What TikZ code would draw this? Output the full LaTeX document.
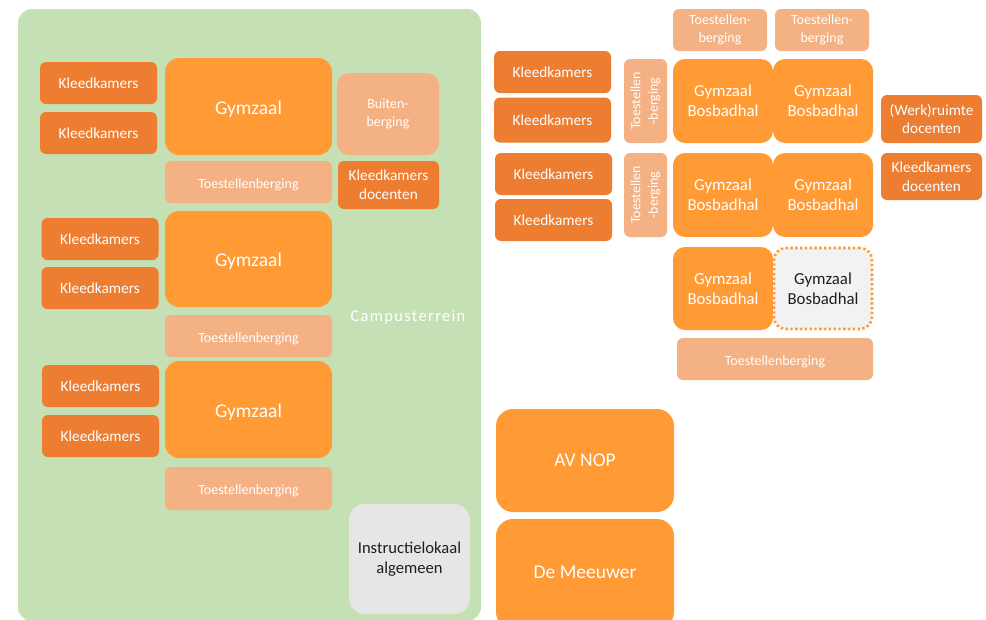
\documentclass[tikz,border=0pt]{standalone}
\usepackage{fontspec}
\setmainfont{Carlito}
\usepackage{tikz}
\usetikzlibrary{positioning}

\definecolor{kleedOranje}{HTML}{ED7D31}
\definecolor{gymOranje}{HTML}{FF9A35}
\definecolor{bergOranje}{HTML}{F4B183}
\definecolor{campusGroen}{HTML}{C5E0B4}
\definecolor{instrGrijs}{HTML}{E6E6E6}
\definecolor{nieuwGrijs}{HTML}{F2F2F2}
\definecolor{donker}{HTML}{1E1E1E}

\newcommand\fsKleed{\fontsize{15.3}{18.8}\selectfont}
\newcommand\fsGym{\fontsize{19.5}{23}\selectfont}
\newcommand\fsBerg{\fontsize{14}{17.6}\selectfont}
\newcommand\fsBos{\fontsize{16.8}{20.2}\selectfont}
\newcommand\omlaag[1]{\raisebox{-2.5pt}[\height][\depth]{#1}}

\tikzset{
  vak/.style={rectangle, inner sep=0pt, outer sep=0pt, text=white, align=center},
  kleed/.style={vak, fill=kleedOranje, rounded corners=6pt,
    minimum width=117pt, minimum height=42pt, font=\fsKleed},
  gym/.style={vak, fill=gymOranje, rounded corners=14pt,
    minimum width=167pt, minimum height=97pt, font=\fsGym},
  berging/.style={vak, fill=bergOranje, rounded corners=6pt,
    minimum width=167pt, minimum height=42pt, font=\fsBerg},
  bosbad/.style={vak, fill=gymOranje, rounded corners=12pt,
    minimum width=100pt, minimum height=84pt, font=\fsBos},
}

\begin{document}
\begin{tikzpicture}[x=1pt,y=-1pt]
\clip (0,0) rectangle (986,619);

% campus
\fill[campusGroen, rounded corners=14pt] (18,9) rectangle (481,621);
\node[text=white, font=\fontsize{16.5}{19}\selectfont\addfontfeature{LetterSpace=8}] at (408,317.5) (campus) {Campusterrein};

\node[kleed] at (98.5,83) (kl1) {Kleedkamers};
\node[kleed] at (98.5,133) (kl2) {Kleedkamers};
\node[kleed] at (100,239) (kl3) {Kleedkamers};
\node[kleed] at (100,288) (kl4) {Kleedkamers};
\node[kleed] at (100.5,386) (kl5) {Kleedkamers};
\node[kleed] at (100.5,436) (kl6) {Kleedkamers};

\node[gym] at (248.5,106.5) (gym1) {\omlaag{Gymzaal}};
\node[berging] at (248.5,182) (tb1) {\omlaag{Toestellenberging}};
\node[gym, minimum height=96pt] at (248.5,259) (gym2) {\omlaag{Gymzaal}};
\node[berging] at (248.5,336) (tb2) {\omlaag{Toestellenberging}};
\node[gym] at (248.5,409.5) (gym3) {\omlaag{Gymzaal}};
\node[berging, minimum height=43pt] at (248.5,488.5) (tb3) {\omlaag{Toestellenberging}};

\node[berging, rounded corners=12pt, minimum width=102pt, minimum height=82pt]
  at (388,114) (buiten) {Buiten-\\berging};
\node[kleed, minimum width=101pt, minimum height=48pt]
  at (388.5,185) (kldoc1) {Kleedkamers\\docenten};

\node[vak, fill=instrGrijs, text=donker, rounded corners=16pt, font=\fontsize{16.6}{20.2}\selectfont,
  minimum width=121pt, minimum height=110pt] at (409.5,559) (instr) {Instructielokaal\\algemeen};

% Bosbadhal
\node[berging, minimum width=94pt] at (720,30) (tbt1) {Toestellen-\\berging};
\node[berging, minimum width=94pt] at (822,30) (tbt2) {Toestellen-\\berging};

\node[kleed] at (552.5,72) (klr1) {Kleedkamers};
\node[kleed, minimum height=45pt] at (552.5,120) (klr2) {Kleedkamers};
\node[kleed] at (553.5,174) (klr3) {Kleedkamers};
\node[kleed] at (553.5,220) (klr4) {Kleedkamers};

\node[berging, rotate=90, minimum width=84pt, minimum height=43pt]
  at (645.5,101) (tv1) {Toestellen\\-berging};
\node[berging, rotate=90, minimum width=84pt, minimum height=43pt]
  at (645.5,195) (tv2) {Toestellen\\-berging};

\node[bosbad] at (723,101) (bb11) {Gymzaal\\Bosbadhal};
\node[bosbad] at (823,101) (bb12) {Gymzaal\\Bosbadhal};
\node[bosbad] at (723,195) (bb21) {Gymzaal\\Bosbadhal};
\node[bosbad] at (823,195) (bb22) {Gymzaal\\Bosbadhal};
\node[bosbad, minimum height=83pt] at (723,288.5) (bb31) {Gymzaal\\Bosbadhal};
\node[bosbad, minimum height=81pt, minimum width=98pt, fill=nieuwGrijs, text=donker, draw=gymOranje,
  line width=2.6pt, dash pattern=on 2.4pt off 2.4pt] at (823,288.5) (bb32) {Gymzaal\\Bosbadhal};

\node[kleed, minimum width=101pt, minimum height=48pt]
  at (931.5,119) (werk) {(Werk)ruimte\\docenten};
\node[kleed, minimum width=101pt, minimum height=47pt]
  at (931.5,176.5) (kldoc2) {Kleedkamers\\docenten};

\node[berging, minimum width=196pt] at (775,359) (tbb) {\omlaag{Toestellenberging}};

\node[gym, rounded corners=17pt, minimum width=178pt, minimum height=103pt]
  at (585,460.5) (avnop) {AV NOP};
\node[gym, rounded corners=17pt, minimum width=178pt, minimum height=110pt]
  at (585,574) (meeuwer) {\raisebox{4pt}{De Meeuwer}};
\end{tikzpicture}
\end{document}
